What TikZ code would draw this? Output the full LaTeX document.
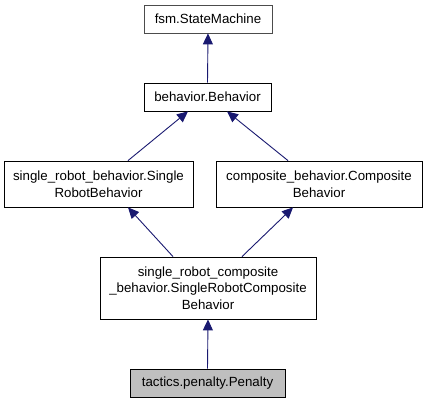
\documentclass[tikz,border=0pt]{standalone}
\usepackage{fontspec}
\setmainfont{Liberation Sans}
\usepackage{xcolor}
\usepackage{tikz}
\usetikzlibrary{arrows.meta,positioning}
\definecolor{edgeblue}{RGB}{25,25,112}

\begin{document}
\begin{tikzpicture}[x=1pt, y=-1pt,
  box/.style={draw, thick, align=center, inner sep=0pt,
    minimum height=28pt, font=\fontsize{13.3}{16.5}\selectfont},
  arr/.style={-{Triangle[length=11pt, width=10pt]}, edgeblue, line width=0.9pt}
]
\useasboundingbox (0,0) rectangle (427,403);
% Class nodes
\node[box, draw=black!70, minimum width=128pt] (SM) at (208, 19) {fsm.StateMachine};
\node[box, minimum width=127pt] (BB) at (207.5, 97) {behavior.Behavior};
\node[box, minimum width=189pt, minimum height=46pt] (SRB) at (98.5, 184)
  {single\_robot\_behavior.Single\\RobotBehavior};
\node[box, minimum width=206pt, minimum height=46pt] (CB) at (319, 184)
  {composite\_behavior.Composite\\Behavior};
\node[box, minimum width=216pt, minimum height=62pt] (SRCB) at (208, 288)
  {single\_robot\_composite\\\_behavior.SingleRobotComposite\\Behavior};
\node[box, fill=black!25, minimum width=155pt] (TP) at (207.5, 383) {tactics.penalty.Penalty};
% Inheritance arrows
\draw[arr] (BB.north) -- (SM.south);
\draw[arr] ([xshift=29.5pt]SRB.north) -- ([xshift=-19.5pt]BB.south);
\draw[arr] ([xshift=-31pt]CB.north) -- ([xshift=19.5pt]BB.south);
\draw[arr] ([xshift=-35pt]SRCB.north) -- ([xshift=29.5pt]SRB.south);
\draw[arr] ([xshift=34pt]SRCB.north) -- ([xshift=-26pt]CB.south);
\draw[arr] (TP.north) -- (SRCB.south);
\end{tikzpicture}
\end{document}
